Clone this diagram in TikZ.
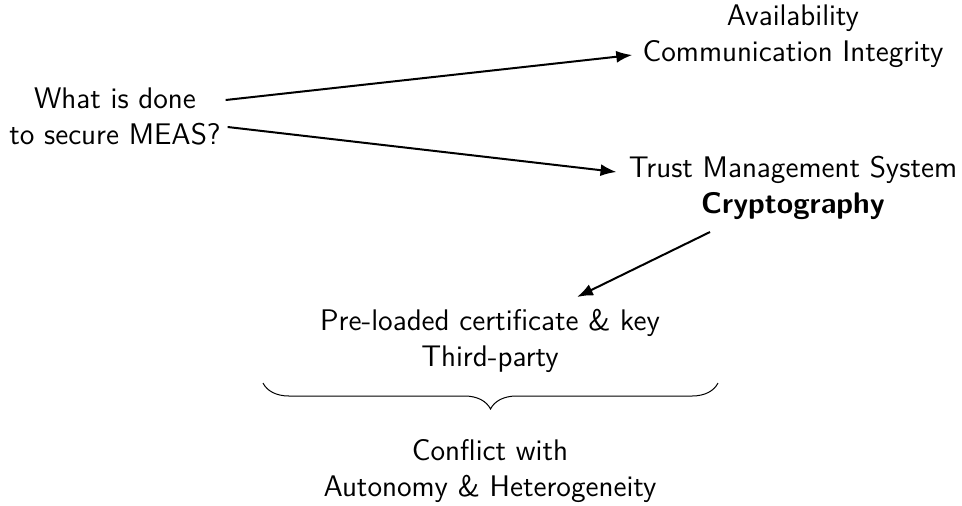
\documentclass[tikz,border=0pt]{standalone}
\usetikzlibrary{decorations.pathreplacing,arrows.meta,calc}
\begin{document}
\begin{tikzpicture}[x=0.5pt,y=-0.5pt,
  font=\sffamily\fontsize{14.9}{18}\selectfont,
  lbl/.style={align=center,inner sep=0pt},
  conn/.style={-{Latex[length=8pt,width=6pt]},line width=1pt},
  bracepath/.style={decorate,decoration={brace,mirror,amplitude=13pt},line width=0.5pt}]
\useasboundingbox (0,0) rectangle (962,505);

% statements
\node[lbl] (q) at (115,116) {What is done\\to secure MEAS?};
\node[lbl] (avail) at (793,36) {Availability\\Communication Integrity};
\node[lbl] (trust) at (793,188) {Trust Management System\\\textbf{Cryptography}};
\node[lbl] (pre) at (490,341) {Pre-loaded certificate \& key\\Third-party};
\node[lbl] (conf) at (490,471) {Conflict with\\Autonomy \& Heterogeneity};

% connectors
\draw[conn] ([xshift=2.25pt,yshift=8pt]q.east) -- ([xshift=-5pt,yshift=-9.5pt]avail.west);
\draw[conn] ([xshift=3.25pt,yshift=-5.5pt]q.east) -- ([xshift=-6pt,yshift=8pt]trust.west);
\draw[conn] ([xshift=-41.5pt,yshift=-22pt]trust.center) -- ([xshift=43.5pt,yshift=22pt]pre.center);

% brace under the mechanisms
\coordinate (bl) at ([xshift=-113.5pt,yshift=-21pt]pre.center);
\coordinate (br) at ([xshift=114pt,yshift=-21pt]pre.center);
\draw[bracepath] (bl) -- (br);
\end{tikzpicture}
\end{document}
